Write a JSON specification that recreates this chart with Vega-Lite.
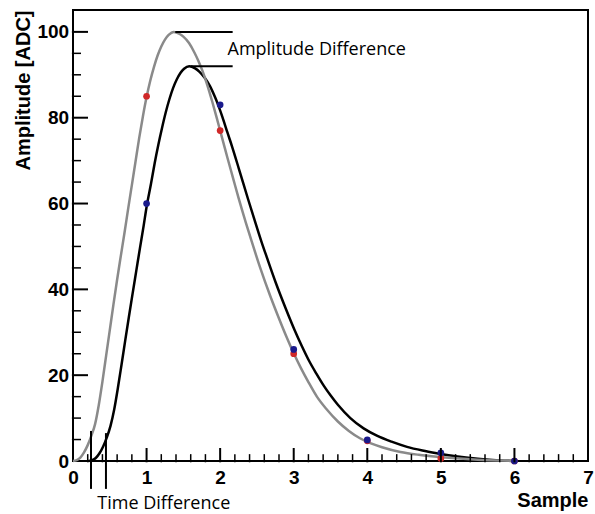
{
  "$schema": "https://vega.github.io/schema/vega-lite/v6.json",
  "width": 515,
  "height": 451,
  "autosize": "none",
  "padding": {"left": 73, "top": 10, "right": 7, "bottom": 53},
  "background": "white",
  "config": {
    "view": {"stroke": "#000000", "strokeWidth": 2},
    "axis": {
      "labelFont": "Liberation Sans",
      "labelFontWeight": "bold",
      "labelFontSize": 19,
      "labelColor": "#000000",
      "titleFont": "Liberation Sans",
      "titleFontWeight": "bold",
      "titleFontSize": 20,
      "titleColor": "#000000",
      "grid": false
    }
  },
  "datasets": {
    "gray": [
      {"x": 0, "y": 0}, {"x": 0.05, "y": 0.2}, {"x": 0.1, "y": 0.8}, {"x": 0.15, "y": 2.0},
      {"x": 0.2, "y": 3.7}, {"x": 0.25, "y": 5.9}, {"x": 0.3, "y": 8.6}, {"x": 0.35, "y": 13},
      {"x": 0.4, "y": 18.5}, {"x": 0.45, "y": 24.5}, {"x": 0.5, "y": 30.5}, {"x": 0.55, "y": 36.5},
      {"x": 0.6, "y": 42.3}, {"x": 0.65, "y": 47.8}, {"x": 0.7, "y": 53.2}, {"x": 0.75, "y": 58.8},
      {"x": 0.8, "y": 64.3}, {"x": 0.85, "y": 69.8}, {"x": 0.9, "y": 75.3}, {"x": 0.95, "y": 80.3},
      {"x": 1.0, "y": 84.8}, {"x": 1.05, "y": 88.6}, {"x": 1.1, "y": 91.8}, {"x": 1.15, "y": 94.5},
      {"x": 1.2, "y": 96.6}, {"x": 1.25, "y": 98.2}, {"x": 1.3, "y": 99.3}, {"x": 1.37, "y": 100},
      {"x": 1.45, "y": 99.5}, {"x": 1.5, "y": 98.9}, {"x": 1.577, "y": 97.4}, {"x": 1.65, "y": 95.2},
      {"x": 1.7, "y": 93.4}, {"x": 1.76, "y": 90.9}, {"x": 1.82, "y": 87.9}, {"x": 1.895, "y": 83.6},
      {"x": 1.95, "y": 80.2}, {"x": 2.0, "y": 77}, {"x": 2.05, "y": 73.8}, {"x": 2.1, "y": 70.6},
      {"x": 2.168, "y": 66.4}, {"x": 2.25, "y": 61.3}, {"x": 2.35, "y": 55.5}, {"x": 2.43, "y": 51.1},
      {"x": 2.545, "y": 45}, {"x": 2.68, "y": 38.5}, {"x": 2.8, "y": 33.2}, {"x": 2.9, "y": 29},
      {"x": 3.0, "y": 25.1}, {"x": 3.1, "y": 21.6}, {"x": 3.2, "y": 18.4}, {"x": 3.315, "y": 15},
      {"x": 3.45, "y": 12}, {"x": 3.6, "y": 9.2}, {"x": 3.75, "y": 7}, {"x": 3.9, "y": 5.3},
      {"x": 4.05, "y": 4.1}, {"x": 4.2, "y": 3.2}, {"x": 4.45, "y": 2.1}, {"x": 4.7, "y": 1.45},
      {"x": 4.95, "y": 1.0}, {"x": 5.2, "y": 0.65}, {"x": 5.5, "y": 0.32}, {"x": 5.8, "y": 0.1},
      {"x": 6.0, "y": 0}
    ],
    "black": [
      {"x": 0.21, "y": 0}, {"x": 0.26, "y": 0.2}, {"x": 0.31, "y": 0.7}, {"x": 0.36, "y": 1.8},
      {"x": 0.41, "y": 3.4}, {"x": 0.46, "y": 5.5}, {"x": 0.51, "y": 8.2}, {"x": 0.56, "y": 12.0},
      {"x": 0.61, "y": 17.0}, {"x": 0.66, "y": 22.5}, {"x": 0.71, "y": 28.1}, {"x": 0.76, "y": 33.6},
      {"x": 0.81, "y": 39.0}, {"x": 0.86, "y": 44.3}, {"x": 0.91, "y": 49.6}, {"x": 0.96, "y": 54.8},
      {"x": 1.0, "y": 59.2}, {"x": 1.06, "y": 64.6}, {"x": 1.11, "y": 69.4}, {"x": 1.16, "y": 73.7},
      {"x": 1.21, "y": 77.6}, {"x": 1.26, "y": 81.2}, {"x": 1.31, "y": 84.3}, {"x": 1.36, "y": 86.9},
      {"x": 1.41, "y": 88.9}, {"x": 1.46, "y": 90.4}, {"x": 1.51, "y": 91.4}, {"x": 1.58, "y": 92},
      {"x": 1.66, "y": 91.5}, {"x": 1.72, "y": 90.7}, {"x": 1.79, "y": 89.3}, {"x": 1.86, "y": 87.4},
      {"x": 1.93, "y": 84.8}, {"x": 1.97, "y": 83.1}, {"x": 2.03, "y": 80.2}, {"x": 2.1, "y": 76.5},
      {"x": 2.16, "y": 73.4}, {"x": 2.26, "y": 67.8}, {"x": 2.38, "y": 61}, {"x": 2.46, "y": 56.6},
      {"x": 2.56, "y": 51.2}, {"x": 2.64, "y": 47.2}, {"x": 2.755, "y": 41.6}, {"x": 2.89, "y": 35.6},
      {"x": 3.01, "y": 30.6}, {"x": 3.11, "y": 26.8}, {"x": 3.21, "y": 23.3}, {"x": 3.31, "y": 20.3},
      {"x": 3.41, "y": 17.5}, {"x": 3.5, "y": 15.3}, {"x": 3.6, "y": 13.1}, {"x": 3.77, "y": 10.0},
      {"x": 3.95, "y": 7.6}, {"x": 4.13, "y": 5.9}, {"x": 4.33, "y": 4.5}, {"x": 4.54, "y": 3.3},
      {"x": 4.75, "y": 2.45}, {"x": 4.97, "y": 1.75}, {"x": 5.2, "y": 1.1}, {"x": 5.5, "y": 0.5},
      {"x": 5.8, "y": 0.12}, {"x": 6.0, "y": 0}
    ],
    "points": [
      {"sample": 1, "amp": 85, "series": "red"}, {"sample": 2, "amp": 77, "series": "red"},
      {"sample": 3, "amp": 25, "series": "red"}, {"sample": 4, "amp": 4.7, "series": "red"},
      {"sample": 5, "amp": 0.6, "series": "red"}, {"sample": 6, "amp": 0, "series": "red"},
      {"sample": 1, "amp": 60, "series": "blue"}, {"sample": 2, "amp": 83, "series": "blue"},
      {"sample": 3, "amp": 26, "series": "blue"}, {"sample": 4, "amp": 4.9, "series": "blue"},
      {"sample": 5, "amp": 1.9, "series": "blue"}, {"sample": 6, "amp": 0, "series": "blue"}
    ],
    "rules": [
      {"x": 0.245, "y": -6.5, "x2": 0.245, "y2": 7},
      {"x": 0.448, "y": -6.5, "x2": 0.448, "y2": 6.5},
      {"x": 1.39, "y": 100, "x2": 2.17, "y2": 100},
      {"x": 1.6, "y": 92, "x2": 2.17, "y2": 92}
    ],
    "texts": [
      {"x": 2.1, "y": 94.6, "label": "Amplitude Difference"},
      {"x": 0.33, "y": -11.3, "label": "Time Difference"}
    ],
    "xmajor": [{"v": 1}, {"v": 2}, {"v": 3}, {"v": 4}, {"v": 5}, {"v": 6}],
    "xminor": [
      {"v": 0.2}, {"v": 0.4}, {"v": 0.6}, {"v": 0.8}, {"v": 1.2}, {"v": 1.4}, {"v": 1.6}, {"v": 1.8},
      {"v": 2.2}, {"v": 2.4}, {"v": 2.6}, {"v": 2.8}, {"v": 3.2}, {"v": 3.4}, {"v": 3.6}, {"v": 3.8},
      {"v": 4.2}, {"v": 4.4}, {"v": 4.6}, {"v": 4.8}, {"v": 5.2}, {"v": 5.4}, {"v": 5.6}, {"v": 5.8},
      {"v": 6.2}, {"v": 6.4}, {"v": 6.6}, {"v": 6.8}
    ],
    "ymajor": [{"v": 20}, {"v": 40}, {"v": 60}, {"v": 80}, {"v": 100}],
    "yminor": [
      {"v": 5}, {"v": 10}, {"v": 15}, {"v": 25}, {"v": 30}, {"v": 35}, {"v": 45}, {"v": 50},
      {"v": 55}, {"v": 65}, {"v": 70}, {"v": 75}, {"v": 85}, {"v": 90}, {"v": 95}
    ]
  },
  "layer": [
    {
      "data": {"name": "black"},
      "mark": {"type": "line", "color": "#000000", "strokeWidth": 2.5, "interpolate": "monotone"},
      "encoding": {
        "x": {"field": "x", "type": "quantitative", "scale": {"domain": [0, 7], "nice": false, "zero": false},
          "axis": {"orient": "bottom", "values": [0, 1, 2, 3, 4, 5, 6, 7], "format": "d", "ticks": false, "domain": false,
            "labelBaseline": "alphabetic", "labelPadding": 22, "labelFlush": false, "labelOverlap": false,
            "title": "Sample", "titleAnchor": "end", "titleAlign": "right", "titleBaseline": "alphabetic", "titleX": 515, "titleY": 45}},
        "y": {"field": "y", "type": "quantitative", "scale": {"domain": [0, 105.1], "nice": false, "zero": false},
          "axis": {"orient": "left", "values": [0, 20, 40, 60, 80, 100], "format": "d", "ticks": false, "domain": false,
            "labelBaseline": "middle", "labelAlign": "right", "labelPadding": 4.4, "labelFlush": false, "labelOverlap": false,
            "title": "Amplitude [ADC]", "titleAngle": 270, "titleAnchor": "end", "titleAlign": "right", "titleBaseline": "alphabetic", "titleX": -43.5, "titleY": 0}}
      }
    },
    {
      "data": {"name": "gray"},
      "mark": {"type": "line", "color": "#8a8a8a", "strokeWidth": 2.5, "interpolate": "monotone"},
      "encoding": {
        "x": {"field": "x", "type": "quantitative"},
        "y": {"field": "y", "type": "quantitative"}
      }
    },
    {
      "data": {"name": "rules"},
      "mark": {"type": "rule", "color": "#000000", "strokeWidth": 2, "clip": false},
      "encoding": {
        "x": {"field": "x", "type": "quantitative"},
        "x2": {"field": "x2"},
        "y": {"field": "y", "type": "quantitative"},
        "y2": {"field": "y2"}
      }
    },
    {
      "data": {"name": "points"},
      "mark": {"type": "circle", "size": 45, "opacity": 1},
      "encoding": {
        "x": {"field": "sample", "type": "quantitative"},
        "y": {"field": "amp", "type": "quantitative"},
        "color": {"field": "series", "type": "nominal", "scale": {"domain": ["red", "blue"], "range": ["#d02828", "#1a1a8c"]}, "legend": null},
        "order": {"field": "series", "type": "nominal", "sort": "descending"}
      }
    },
    {
      "data": {"name": "texts"},
      "mark": {"type": "text", "font": "Open Sans", "fontSize": 18, "color": "#000000", "align": "left", "baseline": "alphabetic", "clip": false},
      "encoding": {
        "x": {"field": "x", "type": "quantitative"},
        "y": {"field": "y", "type": "quantitative"},
        "text": {"field": "label"}
      }
    },
    {
      "data": {"name": "xmajor"},
      "mark": {"type": "rule", "color": "#000000", "strokeWidth": 2, "clip": false},
      "encoding": {
        "x": {"field": "v", "type": "quantitative"},
        "y": {"datum": -0.3, "type": "quantitative"},
        "y2": {"datum": 3.03}
      }
    },
    {
      "data": {"name": "xminor"},
      "mark": {"type": "rule", "color": "#000000", "strokeWidth": 1.5, "clip": false},
      "encoding": {
        "x": {"field": "v", "type": "quantitative"},
        "y": {"datum": -0.3, "type": "quantitative"},
        "y2": {"datum": 1.6}
      }
    },
    {
      "data": {"name": "ymajor"},
      "mark": {"type": "rule", "color": "#000000", "strokeWidth": 2, "clip": false},
      "encoding": {
        "y": {"field": "v", "type": "quantitative"},
        "x": {"datum": -0.015, "type": "quantitative"},
        "x2": {"datum": 0.204}
      }
    },
    {
      "data": {"name": "yminor"},
      "mark": {"type": "rule", "color": "#000000", "strokeWidth": 1.5, "clip": false},
      "encoding": {
        "y": {"field": "v", "type": "quantitative"},
        "x": {"datum": -0.015, "type": "quantitative"},
        "x2": {"datum": 0.109}
      }
    }
  ]
}
